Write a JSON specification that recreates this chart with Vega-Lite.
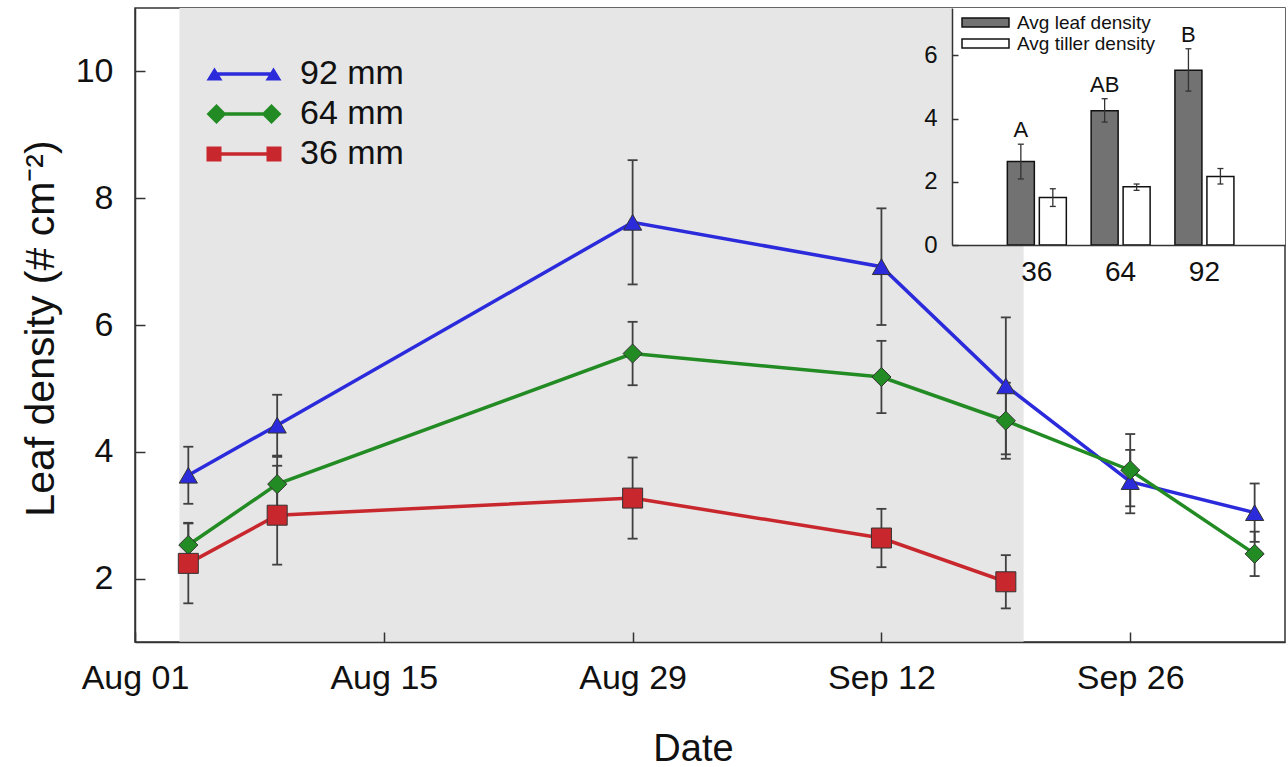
{
  "$schema": "https://vega.github.io/schema/vega-lite/v6.json",
  "width": 1150,
  "height": 634,
  "autosize": {"type": "none"},
  "padding": {"left": 135, "top": 8, "right": 3, "bottom": 125},
  "background": "white",
  "config": {
    "font": "Liberation Sans",
    "view": {"stroke": "#333", "strokeWidth": 1.5},
    "axis": {
      "grid": false,
      "domainColor": "#333",
      "domainWidth": 1.5,
      "tickColor": "#333",
      "tickWidth": 1.5,
      "labelColor": "#111",
      "titleColor": "#111",
      "titleFontWeight": "normal",
      "labelFont": "Liberation Sans",
      "titleFont": "Liberation Sans"
    },
    "legend": {"labelColor": "#111", "labelFont": "Liberation Sans"}
  },
  "datasets": {
    "period": [
      {"phase": "treatment", "start": "2013-08-03T12:00:00Z", "end": "2013-09-20T00:00:00Z"}
    ],
    "leaf": [
      {"series": "92 mm", "date": "2013-08-04", "mean": 3.63, "lo": 3.18, "hi": 4.08},
      {"series": "92 mm", "date": "2013-08-09", "mean": 4.42, "lo": 3.94, "hi": 4.90},
      {"series": "92 mm", "date": "2013-08-29", "mean": 7.62, "lo": 6.64, "hi": 8.60},
      {"series": "92 mm", "date": "2013-09-12", "mean": 6.92, "lo": 6.00, "hi": 7.84},
      {"series": "92 mm", "date": "2013-09-19", "mean": 5.04, "lo": 3.96, "hi": 6.12},
      {"series": "92 mm", "date": "2013-09-26", "mean": 3.53, "lo": 3.03, "hi": 4.03},
      {"series": "92 mm", "date": "2013-10-03", "mean": 3.04, "lo": 2.58, "hi": 3.50},
      {"series": "64 mm", "date": "2013-08-04", "mean": 2.53, "lo": 2.18, "hi": 2.88},
      {"series": "64 mm", "date": "2013-08-09", "mean": 3.49, "lo": 3.06, "hi": 3.92},
      {"series": "64 mm", "date": "2013-08-29", "mean": 5.55, "lo": 5.05, "hi": 6.05},
      {"series": "64 mm", "date": "2013-09-12", "mean": 5.18, "lo": 4.61, "hi": 5.75},
      {"series": "64 mm", "date": "2013-09-19", "mean": 4.49, "lo": 3.89, "hi": 5.09},
      {"series": "64 mm", "date": "2013-09-26", "mean": 3.71, "lo": 3.14, "hi": 4.28},
      {"series": "64 mm", "date": "2013-10-03", "mean": 2.39, "lo": 2.04, "hi": 2.74},
      {"series": "36 mm", "date": "2013-08-04", "mean": 2.24, "lo": 1.61, "hi": 2.87},
      {"series": "36 mm", "date": "2013-08-09", "mean": 3.00, "lo": 2.22, "hi": 3.78},
      {"series": "36 mm", "date": "2013-08-29", "mean": 3.27, "lo": 2.63, "hi": 3.91},
      {"series": "36 mm", "date": "2013-09-12", "mean": 2.64, "lo": 2.18, "hi": 3.10},
      {"series": "36 mm", "date": "2013-09-19", "mean": 1.95, "lo": 1.53, "hi": 2.37}
    ],
    "avg": [
      {"depth": "36", "measure": "Avg leaf density", "mean": 2.64, "lo": 2.09, "hi": 3.19, "letter": "A"},
      {"depth": "36", "measure": "Avg tiller density", "mean": 1.50, "lo": 1.22, "hi": 1.78, "letter": ""},
      {"depth": "64", "measure": "Avg leaf density", "mean": 4.25, "lo": 3.89, "hi": 4.63, "letter": "AB"},
      {"depth": "64", "measure": "Avg tiller density", "mean": 1.84, "lo": 1.73, "hi": 1.93, "letter": ""},
      {"depth": "92", "measure": "Avg leaf density", "mean": 5.53, "lo": 4.87, "hi": 6.21, "letter": "B"},
      {"depth": "92", "measure": "Avg tiller density", "mean": 2.17, "lo": 1.93, "hi": 2.42, "letter": ""}
    ]
  },
  "layer": [
    {
      "layer": [
        {
          "data": {"name": "period"},
          "mark": {"type": "rect", "color": "#e6e6e6"},
          "encoding": {
            "x": {
              "field": "start",
              "type": "temporal",
              "scale": {
                "type": "utc",
                "domain": [
                  {"year": 2013, "month": 8, "date": 1, "utc": true},
                  {"year": 2013, "month": 10, "date": 4, "hours": 17, "utc": true}
                ]
              },
              "axis": {
                "values": [
                  {"year": 2013, "month": 8, "date": 1, "utc": true},
                  {"year": 2013, "month": 8, "date": 15, "utc": true},
                  {"year": 2013, "month": 8, "date": 29, "utc": true},
                  {"year": 2013, "month": 9, "date": 12, "utc": true},
                  {"year": 2013, "month": 9, "date": 26, "utc": true}
                ],
                "format": "%b %d",
                "labelFontSize": 34,
                "labelFlush": false,
                "labelOverlap": false,
                "tickSize": -10,
                "labelPadding": 29,
                "labelDx": -10,
                "title": "Date",
                "titleFontSize": 38,
                "titleX": 558,
                "titleY": 118,
                "titleBaseline": "alphabetic",
                "zindex": 1
              }
            },
            "x2": {"field": "end"}
          }
        },
        {
          "data": {"name": "leaf"},
          "mark": {"type": "rule", "color": "#404040", "strokeWidth": 1.8},
          "encoding": {
            "x": {"field": "date", "type": "temporal"},
            "y": {
              "field": "lo",
              "type": "quantitative",
              "scale": {"domain": [1, 11], "nice": false, "zero": false},
              "axis": {
                "values": [2, 4, 6, 8, 10],
                "format": "d",
                "labelFontSize": 34,
                "tickSize": -10,
                "labelPadding": 32,
                "title": "Leaf density (# cm⁻²)",
                "titleFontSize": 41,
                "titleX": -82,
                "titleY": 320,
                "titleBaseline": "alphabetic",
                "zindex": 1
              }
            },
            "y2": {"field": "hi"}
          }
        },
        {
          "data": {"name": "leaf"},
          "mark": {"type": "tick", "orient": "horizontal", "color": "#404040", "size": 10, "thickness": 1.8, "opacity": 1},
          "encoding": {
            "x": {"field": "date", "type": "temporal"},
            "y": {"field": "lo", "type": "quantitative"}
          }
        },
        {
          "data": {"name": "leaf"},
          "mark": {"type": "tick", "orient": "horizontal", "color": "#404040", "size": 10, "thickness": 1.8, "opacity": 1},
          "encoding": {
            "x": {"field": "date", "type": "temporal"},
            "y": {"field": "hi", "type": "quantitative"}
          }
        },
        {
          "data": {"name": "leaf"},
          "mark": {"type": "line", "strokeWidth": 3.5},
          "encoding": {
            "x": {"field": "date", "type": "temporal"},
            "y": {"field": "mean", "type": "quantitative"},
            "color": {
              "field": "series",
              "type": "nominal",
              "scale": {"domain": ["92 mm", "64 mm", "36 mm"], "range": ["#2b2bdc", "#238b23", "#c8282d"]},
              "legend": null
            }
          }
        },
        {
          "data": {"name": "leaf"},
          "mark": {"type": "point", "filled": true, "opacity": 1, "stroke": "#333", "strokeWidth": 1},
          "encoding": {
            "x": {"field": "date", "type": "temporal"},
            "y": {"field": "mean", "type": "quantitative"},
            "color": {
              "field": "series",
              "type": "nominal",
              "scale": {"domain": ["92 mm", "64 mm", "36 mm"], "range": ["#2b2bdc", "#238b23", "#c8282d"]},
              "legend": null
            },
            "shape": {
              "field": "series",
              "type": "nominal",
              "scale": {"domain": ["92 mm", "64 mm", "36 mm"], "range": ["triangle-up", "diamond", "square"]},
              "legend": null
            },
            "size": {
              "field": "series",
              "type": "nominal",
              "scale": {"domain": ["92 mm", "64 mm", "36 mm"], "range": [330, 400, 240]},
              "legend": null
            }
          }
        },
        {
          "data": {"name": "leaf"},
          "mark": {"type": "point", "filled": true, "opacity": 0},
          "encoding": {
            "x": {"field": "date", "type": "temporal"},
            "y": {"field": "mean", "type": "quantitative"},
            "color": {
              "field": "series",
              "type": "nominal",
              "scale": {"domain": ["92 mm", "64 mm", "36 mm"], "range": ["#2b2bdc", "#238b23", "#c8282d"]},
              "legend": {
                "title": null,
                "orient": "none",
                "legendX": 92,
                "legendY": 49,
                "labelFontSize": 34,
                "labelOffset": 39,
                "symbolSize": 144,
                "symbolStrokeWidth": 0,
                "symbolOpacity": 1,
                "rowPadding": 6
              }
            },
            "shape": {
              "field": "series",
              "type": "nominal",
              "scale": {
                "domain": ["92 mm", "64 mm", "36 mm"],
                "range": [
                  "M-6.25,1.08L-3.58,1.08L-4.92,-1.08Z M3.58,1.08L6.25,1.08L4.92,-1.08Z M-4.92,-0.29V0.29H4.92V-0.29Z",
                  "M-6.25,0L-4.58,-1.67L-2.92,0L-4.58,1.67Z M2.92,0L4.58,-1.67L6.25,0L4.58,1.67Z M-4.58,-0.29H4.58V0.29H-4.58Z",
                  "M-6.25,-1.25H-3.75V1.25H-6.25Z M3.75,-1.25H6.25V1.25H3.75Z M-5,-0.29H5V0.29H-5Z"
                ]
              },
              "legend": {
                "title": null,
                "orient": "none",
                "legendX": 92,
                "legendY": 49,
                "labelFontSize": 34,
                "labelOffset": 39,
                "symbolSize": 144,
                "symbolStrokeWidth": 0,
                "symbolOpacity": 1,
                "rowPadding": 6
              }
            }
          }
        }
      ],
      "resolve": {"scale": {"color": "independent", "shape": "independent"}}
    },
    {
      "data": {"values": [{"panel": "inset"}]},
      "mark": {"type": "rect", "color": "white"},
      "encoding": {
        "x": {"datum": 0, "type": "quantitative", "scale": {"domain": [0, 1], "range": [817, 1150]}, "axis": null},
        "x2": {"datum": 1},
        "y": {"datum": 0, "type": "quantitative", "scale": {"domain": [0, 1], "range": [237, 0]}, "axis": null},
        "y2": {"datum": 1}
      }
    },
    {
      "data": {"name": "avg"},
      "layer": [
        {
          "mark": {"type": "bar", "stroke": "#111", "strokeWidth": 1.5, "opacity": 1},
          "encoding": {
            "x": {
              "field": "depth",
              "type": "nominal",
              "scale": {"range": [817, 1150], "paddingInner": 0.296, "paddingOuter": 0.635, "align": 0.52},
              "axis": {
                "orient": "bottom",
                "offset": -397,
                "labelAngle": 0,
                "labelFontSize": 28,
                "ticks": false,
                "labelPadding": 13,
                "title": null,
                "zindex": 1
              }
            },
            "xOffset": {
              "field": "measure",
              "type": "nominal",
              "scale": {"paddingInner": 0.156}
            },
            "y": {
              "field": "mean",
              "type": "quantitative",
              "scale": {"domain": [0, 7.5], "range": [237, 0], "nice": false},
              "axis": {
                "orient": "left",
                "offset": -817,
                "values": [0, 2, 4, 6],
                "format": "d",
                "labelFontSize": 24,
                "tickSize": -6,
                "labelPadding": 21,
                "title": null,
                "zindex": 1
              }
            },
            "fill": {
              "field": "measure",
              "type": "nominal",
              "scale": {"domain": ["Avg leaf density", "Avg tiller density"], "range": ["#727272", "#ffffff"]},
              "legend": {
                "title": null,
                "orient": "none",
                "legendX": 841,
                "legendY": 5,
                "labelFontSize": 19,
                "labelOffset": 22,
                "symbolType": "M-5.22,-1H5.22V1H-5.22Z",
                "symbolSize": 81,
                "symbolStrokeColor": "#111",
                "symbolStrokeWidth": 1.5,
                "rowPadding": 1
              }
            }
          }
        },
        {
          "mark": {"type": "rule", "color": "#333", "strokeWidth": 1.3},
          "encoding": {
            "x": {"field": "depth", "type": "nominal"},
            "xOffset": {"field": "measure", "type": "nominal"},
            "y": {"field": "lo", "type": "quantitative"},
            "y2": {"field": "hi"}
          }
        },
        {
          "mark": {"type": "tick", "color": "#333", "size": 6, "thickness": 1.3, "opacity": 1},
          "encoding": {
            "x": {"field": "depth", "type": "nominal"},
            "xOffset": {"field": "measure", "type": "nominal"},
            "y": {"field": "lo", "type": "quantitative"}
          }
        },
        {
          "mark": {"type": "tick", "color": "#333", "size": 6, "thickness": 1.3, "opacity": 1},
          "encoding": {
            "x": {"field": "depth", "type": "nominal"},
            "xOffset": {"field": "measure", "type": "nominal"},
            "y": {"field": "hi", "type": "quantitative"}
          }
        },
        {
          "mark": {"type": "text", "fontSize": 22, "baseline": "alphabetic", "dy": -7, "color": "#111"},
          "encoding": {
            "x": {"field": "depth", "type": "nominal"},
            "xOffset": {"field": "measure", "type": "nominal"},
            "y": {"field": "hi", "type": "quantitative"},
            "text": {"field": "letter"}
          }
        }
      ]
    }
  ],
  "resolve": {
    "scale": {"x": "independent", "y": "independent", "color": "independent", "fill": "independent", "shape": "independent", "size": "independent", "xOffset": "independent"},
    "axis": {"x": "independent", "y": "independent"}
  }
}
